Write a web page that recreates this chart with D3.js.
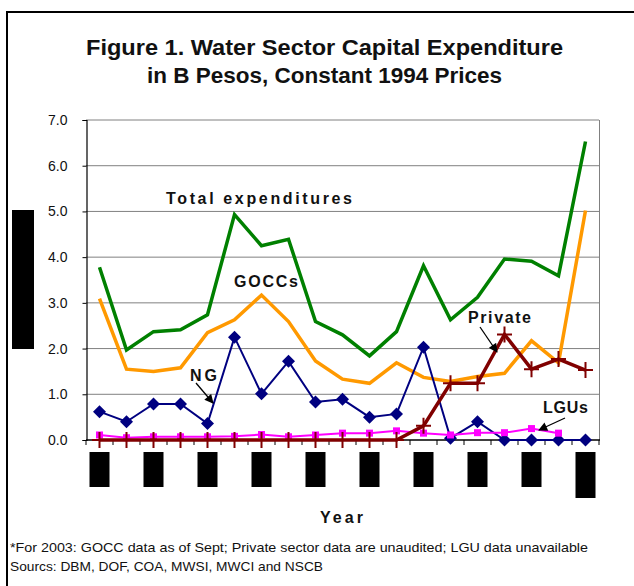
<!DOCTYPE html>
<html>
<head>
<meta charset="utf-8">
<script src="https://cdn.jsdelivr.net/npm/d3@7/dist/d3.min.js"></script>
<style>
  html, body { margin: 0; padding: 0; background: #fff; }
  svg { display: block; }
  text { font-family: "Liberation Sans", Arial, sans-serif; }
</style>
</head>
<body>
<svg id="chart" width="634" height="586"></svg>
<script>
// ---- data ----
const years = ["1985","1986","1987","1988","1989","1990","1991","1992","1993","1994",
               "1995","1996","1997","1998","1999","2000","2001","2002","2003"];
const tickLabels = ["1985","1987","1989","1991","1993","1995","1997","1999","2001","2003*"];
const tickYears  = ["1985","1987","1989","1991","1993","1995","1997","1999","2001","2003"];
const total   = [3.78, 1.97, 2.37, 2.41, 2.74, 4.93, 4.25, 4.39, 2.59, 2.30, 1.84, 2.37, 3.81, 2.63, 3.12, 3.96, 3.91, 3.59, 6.53];
const goccs   = [3.09, 1.55, 1.50, 1.58, 2.35, 2.63, 3.17, 2.59, 1.73, 1.33, 1.24, 1.69, 1.37, 1.28, 1.39, 1.46, 2.17, 1.69, 5.02];
const ng      = [0.62, 0.40, 0.79, 0.79, 0.36, 2.25, 1.01, 1.72, 0.83, 0.89, 0.50, 0.57, 2.03, 0.04, 0.40, 0.00, 0.00, 0.00, 0.00];
const privateS= [0, 0, 0, 0, 0, 0, 0, 0, 0, 0, 0, 0, 0.31, 1.24, 1.24, 2.31, 1.55, 1.77, 1.53];
const lgus    = [0.11, 0.05, 0.07, 0.07, 0.07, 0.08, 0.12, 0.07, 0.11, 0.15, 0.15, 0.20, 0.15, 0.11, 0.16, 0.16, 0.25, 0.15, null];
const yTicks  = [0, 1, 2, 3, 4, 5, 6, 7];

const svg = d3.select("#chart");

// outer frame
svg.append("path").attr("d", "M7,590 V12 H640").attr("fill", "none")
   .attr("stroke", "#000").attr("stroke-width", 2);

// title
svg.append("text").attr("x", 324.5).attr("y", 55).attr("text-anchor", "middle")
   .attr("font-size", 22).attr("font-weight", "bold").attr("fill", "#111")
   .attr("textLength", 477).attr("lengthAdjust", "spacingAndGlyphs")
   .text("Figure 1. Water Sector Capital Expenditure");
svg.append("text").attr("x", 324.5).attr("y", 83).attr("text-anchor", "middle")
   .attr("font-size", 22).attr("font-weight", "bold").attr("fill", "#111")
   .attr("textLength", 355).attr("lengthAdjust", "spacingAndGlyphs")
   .text("in B Pesos, Constant 1994 Prices");

// scales
const x = d3.scalePoint().domain(years).range([86, 599]).padding(0.5);
const y = d3.scaleLinear().domain([0, 7]).range([440, 120]);
const step = x.step();

// gridlines
svg.append("g").selectAll("line").data(yTicks.filter(d => d > 0)).join("line")
   .attr("x1", 86).attr("x2", 599).attr("y1", d => y(d)).attr("y2", d => y(d))
   .attr("stroke", "#808080").attr("stroke-width", 1);
// right frame
svg.append("line").attr("x1", 599.5).attr("x2", 599.5).attr("y1", y(7)).attr("y2", y(0))
   .attr("stroke", "#808080");

// y axis
const yAxis = d3.axisLeft(y).tickValues(yTicks).tickFormat(d3.format(".1f")).tickSize(4).tickPadding(15);
const gy = svg.append("g").attr("transform", "translate(86.5,0)").call(yAxis);
gy.select(".domain").attr("stroke", "#000").attr("stroke-width", 1.2);
gy.selectAll(".tick line").attr("stroke", "#000");
gy.selectAll("text").attr("font-size", 14).attr("fill", "#111")
  .attr("font-family", "'Liberation Sans', Arial, sans-serif");

// x axis line & ticks between categories
svg.append("line").attr("x1", 86).attr("x2", 600).attr("y1", 440).attr("y2", 440)
   .attr("stroke", "#000").attr("stroke-width", 1.5);
svg.append("g").selectAll("line").data(d3.range(years.length + 1)).join("line")
   .attr("x1", i => 86 + i * step).attr("x2", i => 86 + i * step)
   .attr("y1", 440).attr("y2", 445).attr("stroke", "#000");

// x tick labels (rendered as black blocks)
const xl = svg.append("g").selectAll("g").data(tickYears).join("g")
   .attr("transform", d => `translate(${x(d)},452)`);
xl.append("rect").attr("x", -10).attr("y", 0).attr("width", 20)
   .attr("height", (d, i) => i === tickYears.length - 1 ? 46 : 35).attr("fill", "#000");
xl.append("text").attr("transform", "rotate(-90)").attr("x", -2).attr("y", 5)
   .attr("text-anchor", "end").attr("font-size", 12).attr("fill", "#000")
   .text((d, i) => tickLabels[i]);

// y axis title block
svg.append("rect").attr("x", 12).attr("y", 210).attr("width", 22).attr("height", 139).attr("fill", "#000");

// annotation labels
function label(txt, lx, ly, len) {
  svg.append("text").attr("x", lx).attr("y", ly).attr("font-size", 16).attr("font-weight", "bold")
     .attr("textLength", len).attr("lengthAdjust", "spacing")
     .attr("fill", "#111").text(txt);
}
label("Year", 320, 523, 43);
label("Total expenditures", 166, 204, 186);
label("GOCCs", 234, 287, 64);
label("NG", 190, 381, 27);
label("Private", 468, 323, 63);
label("LGUs", 543, 413, 45);

// footnotes
svg.append("text").attr("x", 10).attr("y", 552).attr("font-size", 13).attr("fill", "#111")
   .attr("textLength", 578).attr("lengthAdjust", "spacingAndGlyphs")
   .text("*For 2003: GOCC data as of Sept; Private sector data are unaudited; LGU data unavailable");
svg.append("text").attr("x", 10).attr("y", 571).attr("font-size", 13).attr("fill", "#111")
   .attr("textLength", 313).attr("lengthAdjust", "spacingAndGlyphs")
   .text("Sourcs: DBM, DOF, COA, MWSI, MWCI and NSCB");

// series
const line = d3.line().defined(d => d.v !== null).x(d => x(d.year)).y(d => y(d.v));
const pts = arr => years.map((yr, i) => ({ year: yr, v: arr[i] }));

function drawLine(arr, color, width) {
  svg.append("path").datum(pts(arr)).attr("d", line).attr("fill", "none")
     .attr("stroke", color).attr("stroke-width", width).attr("stroke-linejoin", "miter");
}

drawLine(total, "#008000", 3.5);
drawLine(goccs, "#FF9900", 3.5);

// NG
drawLine(ng, "#000080", 2);
svg.append("g").selectAll("path").data(pts(ng)).join("path")
   .attr("transform", d => `translate(${x(d.year)},${y(d.v)})`)
   .attr("d", "M0,-6.5 L6.5,0 L0,6.5 L-6.5,0 Z").attr("fill", "#000080");

// LGUs
drawLine(lgus, "#FF00FF", 2);
svg.append("g").selectAll("rect").data(pts(lgus).filter(d => d.v !== null)).join("rect")
   .attr("x", d => x(d.year) - 3.5).attr("y", d => y(d.v) - 3.5)
   .attr("width", 7).attr("height", 7).attr("fill", "#FF00FF");

// Private
drawLine(privateS, "#800000", 3.5);
svg.append("g").selectAll("path").data(pts(privateS)).join("path")
   .attr("transform", d => `translate(${x(d.year)},${y(d.v)})`)
   .attr("d", "M-7.5,0 H7.5 M0,-8 V8").attr("stroke", "#800000").attr("stroke-width", 2).attr("fill", "none");

// arrows
svg.append("defs").append("marker").attr("id", "ah").attr("viewBox", "0 0 10 10")
   .attr("refX", 9).attr("refY", 5).attr("markerWidth", 10).attr("markerHeight", 9)
   .attr("markerUnits", "userSpaceOnUse").attr("orient", "auto")
   .append("path").attr("d", "M0,0 L10,5 L0,10 Z").attr("fill", "#000");
function arrow(x1, y1, x2, y2) {
  svg.append("line").attr("x1", x1).attr("y1", y1).attr("x2", x2).attr("y2", y2)
     .attr("stroke", "#000").attr("stroke-width", 1.3).attr("marker-end", "url(#ah)");
}
arrow(196, 383, 213, 403);
arrow(480, 327, 497, 352);
arrow(565, 418, 539, 430);
</script>
</body>
</html>
